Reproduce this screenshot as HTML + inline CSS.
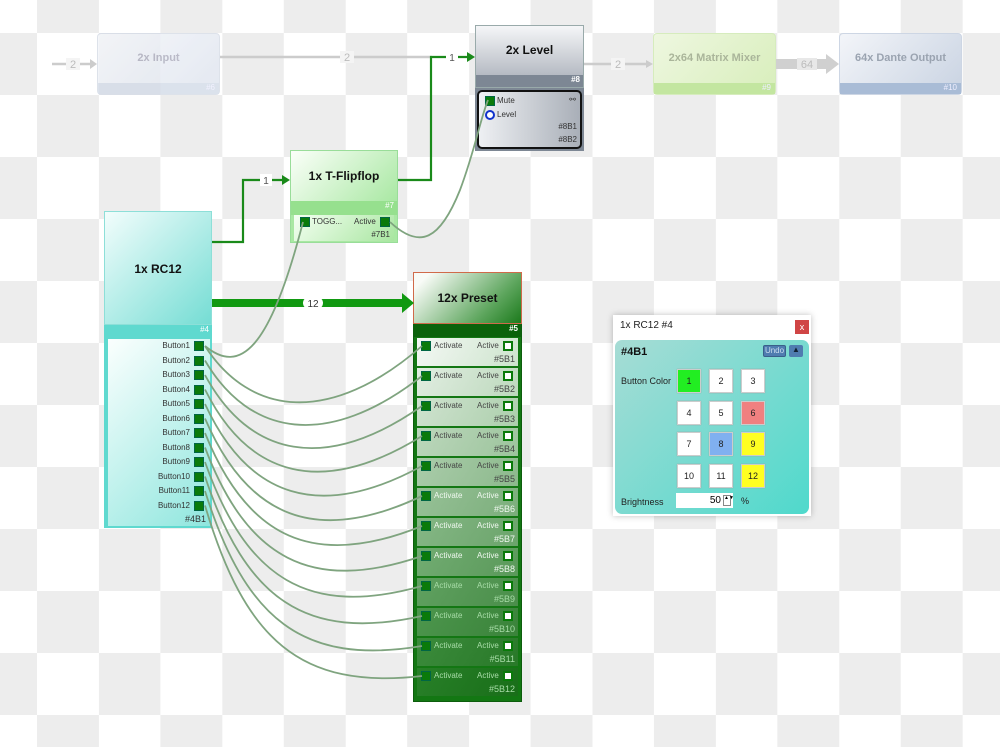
<!DOCTYPE html>
<html><head><meta charset="utf-8"><style>
*{margin:0;padding:0;box-sizing:border-box}
body{width:1000px;height:747px;overflow:hidden;position:relative;font-family:"Liberation Sans",sans-serif;
background:conic-gradient(#ededed 25%,#fff 0 50%,#ededed 0 75%,#fff 0);background-size:123.4px 124px;background-position:37px 33px}
.a{position:absolute}
.ttl{font-weight:bold;font-size:12px;text-align:center;color:#111}
.sq{position:absolute;width:10px;height:10px;background:#0a7a0a;border:1px solid #064}
.sm{font-size:8px;color:#333;position:absolute}
</style></head><body>

<!-- faded top row -->
<div class="a" style="left:97px;top:33px;width:123px;height:62px;border-radius:4px;background:linear-gradient(135deg,#f4f6fa,#dde3ee);opacity:.8;border:1px solid #d5dbe6">
 <div class="ttl a" style="left:0;right:0;top:18px;color:#aab;font-size:11px">2x Input</div>
 <div class="a" style="left:0;right:0;bottom:0;height:11px;background:#d3dbe8;font-size:8px;color:#eef;text-align:right;padding-right:4px">#6</div></div>
<div class="a" style="left:653px;top:33px;width:123px;height:62px;border-radius:4px;background:linear-gradient(135deg,#eef7e0,#d8eebb);border:1px solid #d6ecbd">
 <div class="ttl a" style="left:0;right:0;top:18px;color:#aab59a;font-size:11px">2x64 Matrix Mixer</div>
 <div class="a" style="left:0;right:0;bottom:0;height:11px;background:#c3e6a0;font-size:8px;color:#eef;text-align:right;padding-right:4px">#9</div></div>
<div class="a" style="left:839px;top:33px;width:123px;height:62px;border-radius:4px;background:linear-gradient(135deg,#f3f5f9,#c9d3e2);border:1px solid #cdd6e4">
 <div class="ttl a" style="left:0;right:0;top:18px;color:#9aa3b0;font-size:11px">64x Dante Output</div>
 <div class="a" style="left:0;right:0;bottom:0;height:11px;background:#a9bcd6;font-size:8px;color:#eef;text-align:right;padding-right:4px">#10</div></div>

<!-- 2x Level -->
<div class="a" style="left:475px;top:25px;width:109px;height:63px;background:linear-gradient(180deg,#f5f6f8,#a6acb6);border:1px solid #9aa">
 <div class="ttl a" style="left:0;right:0;top:17px">2x Level</div>
 <div class="a" style="left:0;right:0;bottom:0;height:12px;background:#7d8794;font-size:8px;color:#fff;text-align:right;padding-right:3px;font-weight:bold">#8</div></div>
<div class="a" style="left:475px;top:88px;width:109px;height:63px;background:#7d8794;padding:2px">
 <div style="width:100%;height:100%;border:2px solid #111;border-radius:5px;background:linear-gradient(90deg,#eef0f3,#a9afb8);position:relative">
  <div class="sq" style="left:6px;top:4px"></div><div class="sm" style="left:18px;top:4px">Mute</div><div class="sm" style="right:4px;top:3px">⚯</div>
  <div class="a" style="left:6px;top:18px;width:10px;height:10px;border-radius:50%;border:2.5px solid #1133cc;background:#fff"></div><div class="sm" style="left:18px;top:18px">Level</div>
  <div class="sm" style="right:3px;top:30px">#8B1</div><div class="sm" style="right:3px;top:43px">#8B2</div>
 </div></div>

<!-- T-Flipflop -->
<div class="a" style="left:290px;top:150px;width:108px;height:93px;background:#a9e8a3;border:1px solid #9d9">
 <div class="a" style="left:0;top:0;right:0;height:50px;background:linear-gradient(135deg,#fbfff9,#a9e8a3)"></div>
 <div class="ttl a" style="left:0;right:0;top:18px">1x T-Flipflop</div>
 <div class="a" style="left:0;right:0;top:50px;height:14px;background:#96e08e;font-size:8px;color:#fff;text-align:right;padding-right:3px">#7</div>
 <div class="a" style="left:3px;right:3px;top:64px;height:26px;background:linear-gradient(135deg,#f4fff2,#a8e6a0)">
  <div class="sq" style="left:6px;top:2px"></div><div class="sm" style="left:18px;top:2px">TOGG...</div>
  <div class="sm" style="left:60px;top:2px">Active</div><div class="sq" style="left:86px;top:2px"></div>
  <div class="sm" style="right:4px;top:15px">#7B1</div></div></div>

<!-- RC12 -->
<div class="a" style="left:104px;top:211px;width:108px;height:317px;background:#5fd9cf">
 <div class="a" style="left:0;top:0;right:0;height:114px;background:linear-gradient(135deg,#f2fdfc,#75ddd4);border:1px solid #8ddfd8"></div>
 <div class="ttl a" style="left:0;right:0;top:51px">1x RC12</div>
 <div class="a" style="left:0;right:0;top:114px;height:14px;background:#5fd9cf;font-size:8px;color:#fff;text-align:right;padding-right:3px">#4</div>
 <div class="a" style="left:4px;right:2px;top:128px;height:187px;background:linear-gradient(135deg,#fbfffe,#8fe6de)">
  <div class="sm" style="right:20px;top:2px">Button1</div><div class="sq" style="right:6px;top:2px"></div>
  <div class="sm" style="right:20px;top:16.5px">Button2</div><div class="sq" style="right:6px;top:16.5px"></div>
  <div class="sm" style="right:20px;top:31px">Button3</div><div class="sq" style="right:6px;top:31px"></div>
  <div class="sm" style="right:20px;top:45.5px">Button4</div><div class="sq" style="right:6px;top:45.5px"></div>
  <div class="sm" style="right:20px;top:60px">Button5</div><div class="sq" style="right:6px;top:60px"></div>
  <div class="sm" style="right:20px;top:74.5px">Button6</div><div class="sq" style="right:6px;top:74.5px"></div>
  <div class="sm" style="right:20px;top:89px">Button7</div><div class="sq" style="right:6px;top:89px"></div>
  <div class="sm" style="right:20px;top:103.5px">Button8</div><div class="sq" style="right:6px;top:103.5px"></div>
  <div class="sm" style="right:20px;top:118px">Button9</div><div class="sq" style="right:6px;top:118px"></div>
  <div class="sm" style="right:20px;top:132.5px">Button10</div><div class="sq" style="right:6px;top:132.5px"></div>
  <div class="sm" style="right:20px;top:147px">Button11</div><div class="sq" style="right:6px;top:147px"></div>
  <div class="sm" style="right:20px;top:161.5px">Button12</div><div class="sq" style="right:6px;top:161.5px"></div>
  <div class="sm" style="right:4px;top:175px;font-size:9px">#4B1</div>
 </div></div>

<!-- 12x Preset -->
<div class="a" style="left:413px;top:272px;width:109px;height:430px;background:#137713;border:1px solid #0d5d0d">
 <div class="a" style="left:-1px;top:-1px;width:109px;height:52px;background:linear-gradient(135deg,#f8fbf7 10%,#5ea65e 70%,#1c7a1c);border:1.5px solid #d06a4a"></div>
 <div class="ttl a" style="left:0;right:0;top:18px">12x Preset</div>
 <div class="a" style="left:0;right:0;top:51px;height:13px;background:#0b620b;font-size:8px;color:#fff;text-align:right;padding-right:3px;font-weight:bold">#5</div>
</div>
<div id="ports"></div>
<script>
function mix(a,b,k){return 'rgb('+a.map(function(v,j){return Math.round(v+(b[j]-v)*k)}).join(',')+')';}
var h='';
for(var i=0;i<12;i++){
 var t=338+30*i,k=i/11;
 var c1=mix([244,248,244],[40,128,40],k), c2=mix([205,228,205],[25,110,25],k);
 var tc=i<5?'#444':(i<8?'#f0f8f0':'#a8dca8');
 h+='<div class="a" style="left:417px;top:'+t+'px;width:101px;height:28px;background:linear-gradient(120deg,'+c1+','+c2+')">'
 +'<div class="sq" style="left:4px;top:3px"></div><div class="sm" style="left:17px;top:3px;color:'+tc+'">Activate</div>'
 +'<div class="sm" style="left:60px;top:3px;color:'+tc+'">Active</div>'
 +'<div class="a" style="left:86px;top:3px;width:10px;height:10px;background:#0a7a0a;border:2px solid #0a7a0a"><div style="width:6px;height:6px;background:#fff;margin:0"></div></div>'
 +'<div class="sm" style="right:3px;top:16px;font-size:9px;color:'+tc+'">#5B'+(i+1)+'</div></div>';
}
document.getElementById('ports').innerHTML=h;
</script>

<!-- connectors -->
<svg class="a" style="left:0;top:0" width="1000" height="747">
 <g stroke="#ccc" stroke-width="2.5" fill="none">
  <line x1="52" y1="64" x2="90" y2="64"/><line x1="220" y1="57" x2="432" y2="57"/>
  <line x1="584" y1="64" x2="646" y2="64"/>
 </g>
 <path d="M90 59 L97 64 L90 69Z" fill="#ccc"/><path d="M646 60 L653 64 L646 68Z" fill="#ccc"/>
 <rect x="776" y="59" width="52" height="10" fill="#d0d0d0"/><path d="M826 54 L839 64 L826 74Z" fill="#d0d0d0"/>
 <g font-size="11" fill="#bbb" text-anchor="middle" font-family="Liberation Sans">
  <rect x="66" y="58" width="14" height="12" fill="#f4f4f4"/><text x="73" y="68">2</text>
  <rect x="340" y="51" width="14" height="12" fill="#f4f4f4"/><text x="347" y="61">2</text>
  <rect x="611" y="58" width="14" height="12" fill="#f4f4f4"/><text x="618" y="68">2</text>
  <rect x="797" y="58" width="20" height="12" fill="#e8e8e8"/><text x="807" y="68">64</text>
 </g>
 <g stroke="#1a8a1a" stroke-width="2.2" fill="none">
  <polyline points="212,242 243,242 243,180 284,180"/>
  <polyline points="398,180 431,180 431,57 469,57"/>
 </g>
 <path d="M282 175 L290 180 L282 185Z" fill="#1a8a1a"/><path d="M467 52 L475 57 L467 62Z" fill="#1a8a1a"/>
 <rect x="260" y="174" width="12" height="12" fill="#fff"/><text x="266" y="184" font-size="10" text-anchor="middle" fill="#555" font-family="Liberation Sans">1</text>
 <rect x="446" y="51" width="12" height="12" fill="#fff"/><text x="452" y="61" font-size="10" text-anchor="middle" fill="#555" font-family="Liberation Sans">1</text>
 <rect x="212" y="299" width="192" height="8" fill="#119911"/><path d="M402 293 L414 303 L402 313Z" fill="#119911"/>
 <rect x="303" y="297" width="20" height="12" rx="6" fill="#fff"/><text x="313" y="307" font-size="10" text-anchor="middle" fill="#333" font-family="Liberation Sans">12</text>
 <g stroke="#7fa47f" stroke-width="1.8" fill="none" id="cv">
  <path d="M390 222 C420 250 440 240 460 190 C475 150 480 120 488 100"/>
  <path d="M205 346 C240 375 270 350 303 222"/>
 </g>
</svg>
<script>
var g=document.getElementById('cv'),s='';
for(var i=0;i<12;i++){var y1=346+14.5*i,y2=346+30*i,k=i/11;
 s+='<path d="M205 '+y1+' C'+(250-5*k)+' '+(y2+70-106*k)+' '+(330-30*k)+' '+(y2+80-66*k)+' 422 '+y2+'"/>';}
g.innerHTML+=s;
</script>

<!-- dialog -->
<div class="a" style="left:613px;top:315px;width:198px;height:201px;background:#fff;box-shadow:0 0 6px rgba(0,0,0,.25)">
 <div class="a" style="left:7px;top:5px;font-size:10px;color:#222">1x RC12 #4</div>
 <div class="a" style="left:182px;top:5px;width:14px;height:14px;background:#d04545;color:#fff;font-size:9px;text-align:center;line-height:14px">x</div>
 <div class="a" style="left:2px;top:25px;width:194px;height:174px;border-radius:7px;background:linear-gradient(135deg,#a7dcd5,#4fd9cc)">
  <div class="a" style="left:6px;top:6px;font-size:11px;font-weight:bold;color:#111">#4B1</div>
  <div class="a" style="left:148px;top:5px;width:23px;height:12px;background:#4f7cb0;border:1px solid #3a5f8a;border-radius:2px;font-size:8px;color:#cde;text-align:center">Undo</div>
  <div class="a" style="left:174px;top:5px;width:14px;height:12px;background:#4f7cb0;border-radius:2px;font-size:8px;color:#123;text-align:center">▲</div>
  <div class="a" style="left:6px;top:36px;font-size:9px;color:#222">Button Color</div>
  <div class="a" style="left:6px;top:157px;font-size:9px;color:#222">Brightness</div>
  <div class="a" style="left:61px;top:153px;width:57px;height:15px;background:#fff;font-size:10px;text-align:right;padding-right:12px;line-height:15px">50</div>
  <div class="a" style="left:108px;top:155px;width:8px;height:11px;border:1px solid #888;font-size:5px;line-height:5px;text-align:center">▲▼</div>
  <div class="a" style="left:126px;top:156px;font-size:9px;color:#222">%</div>
 </div>
</div>
<div id="grid"></div>
<script>
var cols={1:'#22ee22',6:'#f08080',8:'#80b0f0',9:'#ffff22',12:'#ffff22'},gh='';
for(var n=1;n<=12;n++){var r=Math.floor((n-1)/3),c=(n-1)%3;
 gh+='<div class="a" style="left:'+(677+32*c)+'px;top:'+(369+31.5*r)+'px;width:24px;height:24px;background:'+(cols[n]||'#fff')+';border:1px solid #ccc;box-shadow:0 0 1px #999;font-size:9px;text-align:center;line-height:22px;color:#222">'+n+'</div>';}
document.getElementById('grid').innerHTML=gh;
</script>
</body></html>
